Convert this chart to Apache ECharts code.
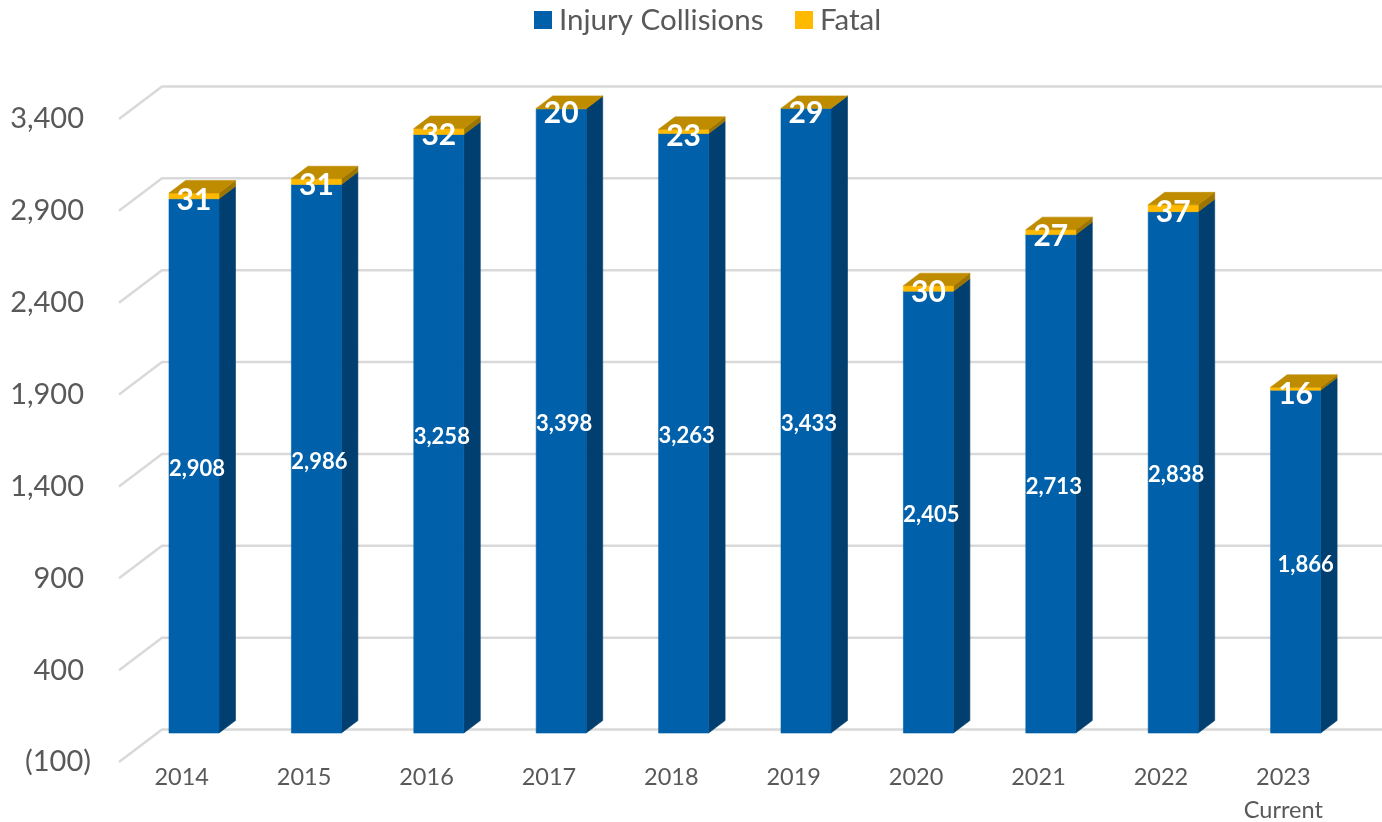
<!DOCTYPE html>
<html><head><meta charset="utf-8">
<style>html,body{margin:0;padding:0;background:#fff}#c{width:1382px;height:822px}</style>
<script src="https://cdn.jsdelivr.net/npm/echarts@6/dist/echarts.min.js"></script>
</head><body><div id="c"></div>
<script>
const categories = ['2014','2015','2016','2017','2018','2019','2020','2021','2022','2023\nCurrent'];
const injuryCollisions = [2908,2986,3258,3398,3263,3433,2405,2713,2838,1866];
const fatal = [31,31,32,20,23,29,30,27,37,16];
const yTicks = [-100,400,900,1400,1900,2400,2900,3400];
const yMin = -100, yMax = 3400;

const FONT = 'Lato';
const TEXT = '#595959';
const WALL = {dx:43, dy:-32.5};
const BAR = {width:50, shiftX:13.8, shiftY:-10.6, dx:16.5, dy:-12.5};
const fmt = v => v < 0 ? '(' + Math.abs(v).toLocaleString('en-US') + ')' : '{p|' + v.toLocaleString('en-US') + '}';
const num = v => v.toLocaleString('en-US');

// like the reference, marks are cut off at the axis maximum
function barBox(api, i, from, to){
  const a = api.coord([i, Math.min(from, yMax)]), b = api.coord([i, Math.min(to, yMax)]);
  const x0 = a[0] + BAR.shiftX - BAR.width/2, x1 = x0 + BAR.width;
  return {x0, x1, yb: a[1] + BAR.shiftY, yt: b[1] + BAR.shiftY};
}
function poly(points, fill, stroke){
  return {type:'polygon', shape:{points}, style:{fill, stroke: stroke || fill, lineWidth:0.6}};
}
function prism(b, front, side){
  return [
    poly([[b.x1,b.yb],[b.x1+BAR.dx,b.yb+BAR.dy],[b.x1+BAR.dx,b.yt+BAR.dy],[b.x1,b.yt]], side),
    poly([[b.x0,b.yb],[b.x1,b.yb],[b.x1,b.yt],[b.x0,b.yt]], front)
  ];
}
const option = {
  animation:false,
  textStyle:{fontFamily:FONT},
  legend:{
    left:534, top:5, padding:0, itemWidth:18, itemHeight:18, itemGap:31.5, icon:'rect',
    data:['Injury Collisions','Fatal'],
    textStyle:{color:TEXT, fontSize:29.5, fontFamily:FONT, padding:[0,0,0,2]}
  },
  grid:{left:119, top:119, width:1224, height:643, outerBoundsMode:'none'},
  xAxis:{
    type:'category', data:categories,
    axisLine:{show:false}, axisTick:{show:false},
    axisLabel:{color:TEXT, fontSize:23.5, fontFamily:FONT, lineHeight:33, margin:-1, interval:0, padding:[0,0,0,3]}
  },
  yAxis:{
    type:'value', min:yMin, max:yMax,
    axisLine:{show:false}, axisTick:{show:false}, splitLine:{show:false},
    axisLabel:{
      customValues:yTicks, formatter:fmt, color:TEXT, fontSize:29, fontFamily:FONT, margin:28,
      rich:{p:{fontSize:29, fontFamily:FONT, color:TEXT, padding:[0,7,0,0]}}
    }
  },
  series:[
    {
      type:'custom', name:'walls', silent:true, z:1,
      data:yTicks.map(v=>[0,v]),
      encode:{x:0,y:1},
      renderItem(params, api){
        const left = params.coordSys.x, right = left + params.coordSys.width;
        const y = api.coord([0, api.value(1)])[1];
        return {type:'polyline', shape:{points:[[left,y],[left+WALL.dx,y+WALL.dy],[right+WALL.dx,y+WALL.dy]]},
          style:{fill:'none', stroke:'#d9d9d9', lineWidth:2.5}};
      }
    },
    {
      type:'custom', name:'Injury Collisions', z:2,
      itemStyle:{color:'#0060A9'},
      data:injuryCollisions.map((v,i)=>[i,v]),
      encode:{x:0,y:1},
      renderItem(params, api){
        const i = api.value(0), v = api.value(1);
        const b = barBox(api, i, 0, v);
        const lift = i === categories.length-1 ? 10 : 3;
        return {type:'group', children:[
          ...prism(b,'#0060A9','#003F6F'),
          {type:'text', z2:50, style:{text:num(v), x:(b.x0+b.x1)/2+lift, y:(b.yb+b.yt)/2+3, align:'center', verticalAlign:'middle',
            fill:'#fff', fontFamily:FONT, fontWeight:'bold', fontSize:22}}
        ]};
      }
    },
    {
      type:'custom', name:'Fatal', z:3,
      itemStyle:{color:'#FFBA00'},
      data:fatal.map((v,i)=>[i,v,injuryCollisions[i]]),
      encode:{x:0,y:1},
      renderItem(params, api){
        const i = api.value(0), v = api.value(1), base = api.value(2);
        const b = barBox(api, i, base, base+v);
        const cut = base + v > yMax;
        const children = [];
        if (b.yb > b.yt) children.push(...prism(b,'#FFBA00','#9C7400'));
        children.push(
          poly([[b.x0,b.yt],[b.x1,b.yt],[b.x1+BAR.dx,b.yt+BAR.dy],[b.x0+BAR.dx,b.yt+BAR.dy]],'#BF8C00'),
          {type:'text', z2:50, style:{text:String(v), x:(b.x0+b.x1)/2, y:b.yt+(cut?5:7), align:'center', verticalAlign:'middle',
            fill:'#fff', fontFamily:FONT, fontWeight:'bold', fontSize:30}}
        );
        return {type:'group', children};
      }
    }
  ]
};
echarts.init(document.getElementById('c'),null,{renderer:'canvas'}).setOption(option);
</script></body></html>
